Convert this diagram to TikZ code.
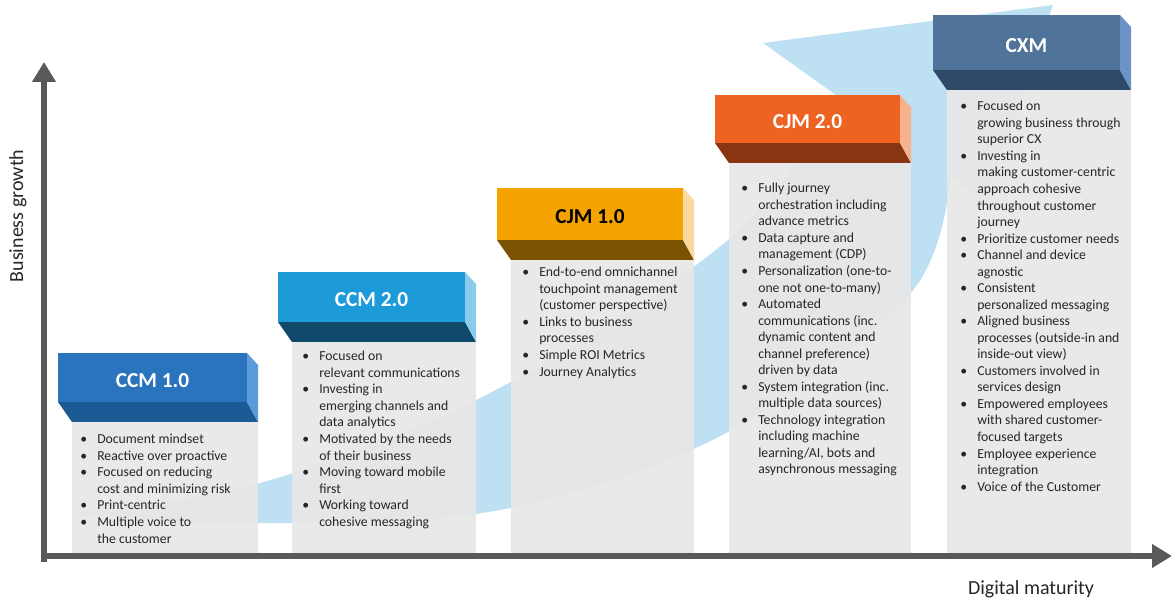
\documentclass[tikz,border=0pt]{standalone}
\usepackage{fontspec}
\setmainfont{Carlito}
\usetikzlibrary{arrows.meta}

\definecolor{axisgray}{HTML}{595959}
\definecolor{bandblue}{HTML}{BEE0F3}
\definecolor{cardgray}{HTML}{E7E7E8}
\definecolor{ccmAfront}{HTML}{2A73BD}
\definecolor{ccmAunder}{HTML}{1B5A94}
\definecolor{ccmAside}{HTML}{5A9BDA}
\definecolor{ccmBfront}{HTML}{1C9BD8}
\definecolor{ccmBunder}{HTML}{0F4A6B}
\definecolor{ccmBside}{HTML}{8ACCEE}
\definecolor{cjmAfront}{HTML}{F4A300}
\definecolor{cjmAunder}{HTML}{7B5200}
\definecolor{cjmAside}{HTML}{FAD9A0}
\definecolor{cjmBfront}{HTML}{EE6322}
\definecolor{cjmBunder}{HTML}{8A3511}
\definecolor{cjmBside}{HTML}{F5B28D}
\definecolor{cxmfront}{HTML}{4F7399}
\definecolor{cxmunder}{HTML}{2F4A68}
\definecolor{cxmside}{HTML}{6B93C7}

\newcommand{\bl}{\makebox[12.75pt][l]{\textbullet}}
\newcommand{\ind}{\hspace*{12.75pt}}

\begin{document}
\begin{tikzpicture}[x=0.75pt,y=0.75pt,
  axis/.style={line width=5pt,axisgray,-{Triangle[width=17pt,length=15pt]}},
  card/.style={fill=cardgray,fill opacity=0.93},
  stagelabel/.style={font=\fontsize{16}{19}\selectfont\bfseries},
  axislabel/.style={font=\fontsize{15}{18}\selectfont,text=black!85},
  bullets/.style={anchor=north west,inner sep=0pt,align=left,
    font=\fontsize{10.3}{12.4}\selectfont,text=black!85}]
  \useasboundingbox (0,0) rectangle (1171,598);

  % growth band behind the stages
  \fill[bandblue] plot[smooth,tension=0.6] coordinates
      {(78,86) (257,114) (490,205) (728,358) (840,500)}
    -- (763,555) -- (1053,593) -- (985,397) -- (950,422)
    -- plot[smooth,tension=0.6] coordinates
      {(950,422) (910,304) (728,166) (510,90) (290,75) (78,82)}
    -- cycle;

  % stages: card, then the 3d header on top
  \foreach \nm/\l/\r/\t/\b/\fc/\uc/\sc/\tc/\txt in {
      ccmone/58/247/245/196/ccmAfront/ccmAunder/ccmAside/white/CCM 1.0,
      ccmtwo/278/465/326/276/ccmBfront/ccmBunder/ccmBside/white/CCM 2.0,
      cjmone/497/683/410/358/cjmAfront/cjmAunder/cjmAside/black/CJM 1.0,
      cjmtwo/715/900/503/455/cjmBfront/cjmBunder/cjmBside/white/CJM 2.0,
      cxm/933/1120/583/528/cxmfront/cxmunder/cxmside/white/CXM} {
    \fill[card] (\l+14,\b-20) rectangle (\r+11,45);
    \fill[\uc] (\l,\b) -- (\r,\b) -- (\r+11,\b-20) -- (\l+14,\b-20) -- cycle;
    \fill[\sc] (\r,\t) -- (\r+11,\t-12) -- (\r+11,\b-20) -- (\r,\b) -- cycle;
    \fill[\fc] (\l,\t) rectangle (\r,\b);
    \node[stagelabel,text=\tc] (\nm) at ({(\l+\r)/2},{(\t+\b)/2-3}) {\txt};
  }

  % axes
  \coordinate (yfoot) at (44,36);
  \coordinate (ytip) at (44,536);
  \coordinate (xfoot) at (40.5,42);
  \coordinate (xtip) at (1172,42);
  \draw[axis] (yfoot) -- (ytip);
  \draw[axis] (xfoot) -- (xtip);
  \node[axislabel,rotate=90] (growth) at (18,382) {Business growth};
  \node[axislabel] (maturity) at (1031,9) {Digital maturity};

  % bullet lists
  \node[bullets] (ccmonetxt) at (80,166) {\strut\bl Document mindset\\
    \bl Reactive over proactive\\
    \bl Focused on reducing\\
    \ind cost and minimizing risk\\
    \bl Print-centric\\
    \bl Multiple voice to\\
    \ind the customer};
  \node[bullets] (ccmtwotxt) at (302,249) {\strut\bl Focused on\\
    \ind relevant communications\\
    \bl Investing in\\
    \ind emerging channels and\\
    \ind data analytics\\
    \bl Motivated by the needs\\
    \ind of their business\\
    \bl Moving toward mobile\\
    \ind first\\
    \bl Working toward\\
    \ind cohesive messaging};
  \node[bullets] (cjmonetxt) at (522,333) {\strut\bl End-to-end omnichannel\\
    \ind touchpoint management\\
    \ind (customer perspective)\\
    \bl Links to business\\
    \ind processes\\
    \bl Simple ROI Metrics\\
    \bl Journey Analytics};
  \node[bullets] (cjmtwotxt) at (741,417) {\strut\bl Fully journey\\
    \ind orchestration including\\
    \ind advance metrics\\
    \bl Data capture and\\
    \ind management (CDP)\\
    \bl Personalization (one-to-\\
    \ind one not one-to-many)\\
    \bl Automated\\
    \ind communications (inc.\\
    \ind dynamic content and\\
    \ind channel preference)\\
    \ind driven by data\\
    \bl System integration (inc.\\
    \ind multiple data sources)\\
    \bl Technology integration\\
    \ind including machine\\
    \ind learning/AI, bots and\\
    \ind asynchronous messaging};
  \node[bullets] (cxmtxt) at (960,499) {\strut\bl Focused on\\
    \ind growing business through\\
    \ind superior CX\\
    \bl Investing in\\
    \ind making customer-centric\\
    \ind approach cohesive\\
    \ind throughout customer\\
    \ind journey\\
    \bl Prioritize customer needs\\
    \bl Channel and device\\
    \ind agnostic\\
    \bl Consistent\\
    \ind personalized messaging\\
    \bl Aligned business\\
    \ind processes (outside-in and\\
    \ind inside-out view)\\
    \bl Customers involved in\\
    \ind services design\\
    \bl Empowered employees\\
    \ind with shared customer-\\
    \ind focused targets\\
    \bl Employee experience\\
    \ind integration\\
    \bl Voice of the Customer};
\end{tikzpicture}
\end{document}
